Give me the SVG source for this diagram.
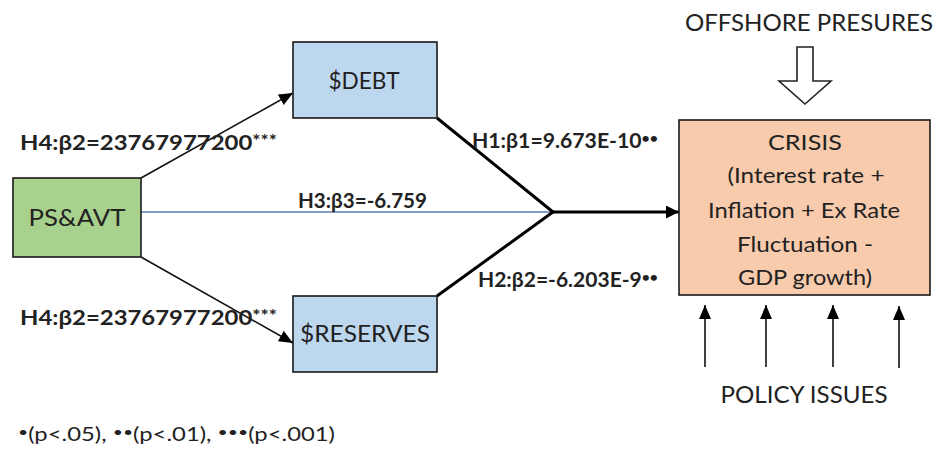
<svg xmlns="http://www.w3.org/2000/svg" width="948" height="449" viewBox="0 0 948 449">
<style>
  .t { font-family: Lato, "Liberation Sans", sans-serif; fill: #222; }
  .b { font-weight: bold; }
  .box { stroke: #1a1a1a; stroke-width: 1.6; }
  .thin { stroke: #111; stroke-width: 1.6; fill: none; }
  .thick { stroke: #000; stroke-width: 3; fill: none; }
</style>
<defs>
  <marker id="ah" markerUnits="userSpaceOnUse" markerWidth="16" markerHeight="14" refX="14" refY="6" orient="auto">
    <path d="M0,0 L14,6 L0,12 Z" fill="#000"/>
  </marker>
  <marker id="ahk" markerUnits="userSpaceOnUse" markerWidth="16" markerHeight="14" refX="13" refY="6.5" orient="auto">
    <path d="M0,0 L13,6.5 L0,13 Z" fill="#000"/>
  </marker>
</defs>
<rect width="948" height="449" fill="#fff"/>

<g id="connectors">
  <line class="thin" x1="141" y1="178" x2="293" y2="93" marker-end="url(#ah)"/>
  <line class="thin" x1="141" y1="257" x2="293" y2="343" marker-end="url(#ah)"/>
  <line x1="141" y1="212" x2="553" y2="212" stroke="#5a7db0" stroke-width="1.3"/>
  <polyline class="thick" points="437,118 553,212 437,296"/>
  <line class="thick" x1="552" y1="212" x2="679" y2="212" marker-end="url(#ahk)"/>
  <line class="thin" x1="705" y1="367" x2="705" y2="305" marker-end="url(#ah)"/>
  <line class="thin" x1="766" y1="367" x2="766" y2="305" marker-end="url(#ah)"/>
  <line class="thin" x1="833" y1="367" x2="833" y2="305" marker-end="url(#ah)"/>
  <line class="thin" x1="899" y1="368" x2="899" y2="306" marker-end="url(#ah)"/>
  <polygon points="797,47 813,47 813,81 831,81 805,104 779,81 797,81" fill="#fff" stroke="#222" stroke-width="1.6"/>
</g>

<g id="psavt">
  <rect class="box" x="13" y="178" width="128" height="79" fill="#a9d18e"/>
  <text class="t" x="77" y="226" text-anchor="middle" font-size="24" textLength="97" lengthAdjust="spacingAndGlyphs">PS&amp;AVT</text>
</g>
<g id="debt">
  <rect class="box" x="293" y="42" width="144" height="76" fill="#bdd7ee"/>
  <text class="t" x="364" y="89" text-anchor="middle" font-size="24" textLength="71" lengthAdjust="spacingAndGlyphs">$DEBT</text>
</g>
<g id="reserves">
  <rect class="box" x="293" y="296" width="144" height="76" fill="#bdd7ee"/>
  <text class="t" x="365" y="342" text-anchor="middle" font-size="24" textLength="130" lengthAdjust="spacingAndGlyphs">$RESERVES</text>
</g>
<g id="crisis">
  <rect class="box" x="679" y="120" width="251" height="175" fill="#f8cbad"/>
  <text class="t" x="805" y="150" text-anchor="middle" font-size="22" textLength="74" lengthAdjust="spacingAndGlyphs">CRISIS</text>
  <text class="t" x="806" y="183" text-anchor="middle" font-size="22" textLength="157" lengthAdjust="spacingAndGlyphs">(Interest rate +</text>
  <text class="t" x="804" y="218" text-anchor="middle" font-size="22" textLength="192" lengthAdjust="spacingAndGlyphs">Inflation + Ex Rate</text>
  <text class="t" x="805" y="252" text-anchor="middle" font-size="22" textLength="136" lengthAdjust="spacingAndGlyphs">Fluctuation -</text>
  <text class="t" x="805" y="285" text-anchor="middle" font-size="22" textLength="134" lengthAdjust="spacingAndGlyphs">GDP growth)</text>
</g>
<g id="offshore">
  <text class="t" x="809" y="31" text-anchor="middle" font-size="23" textLength="248" lengthAdjust="spacingAndGlyphs">OFFSHORE PRESURES</text>
</g>
<g id="policy">
  <text class="t" x="804" y="403" text-anchor="middle" font-size="23" textLength="167" lengthAdjust="spacingAndGlyphs">POLICY ISSUES</text>
</g>

<g id="labels">
  <text class="t b" x="20" y="150" font-size="21" textLength="257" lengthAdjust="spacingAndGlyphs">H4:β2=23767977200<tspan font-size="17" dy="-3">***</tspan></text>
  <text class="t b" x="20" y="325" font-size="21" textLength="257" lengthAdjust="spacingAndGlyphs">H4:β2=23767977200<tspan font-size="17" dy="-3">***</tspan></text>
  <text class="t b" x="298" y="208" font-size="21" textLength="129" lengthAdjust="spacingAndGlyphs">H3:β3=-6.759</text>
  <text class="t b" x="472" y="148" font-size="21" textLength="186" lengthAdjust="spacingAndGlyphs">H1:β1=9.673E-10<tspan font-size="14" dy="-5">••</tspan></text>
  <text class="t b" x="478" y="287" font-size="21" textLength="180" lengthAdjust="spacingAndGlyphs">H2:β2=-6.203E-9<tspan font-size="14" dy="-5">••</tspan></text>
</g>

<g id="legend">
  <text class="t" x="18" y="441" font-size="19" textLength="317" lengthAdjust="spacingAndGlyphs"><tspan font-size="14" dy="-4">•</tspan><tspan dy="4">(p&lt;.05), </tspan><tspan font-size="14" dy="-4">••</tspan><tspan dy="4">(p&lt;.01), </tspan><tspan font-size="14" dy="-4">•••</tspan><tspan dy="4">(p&lt;.001)</tspan></text>
</g>
</svg>
